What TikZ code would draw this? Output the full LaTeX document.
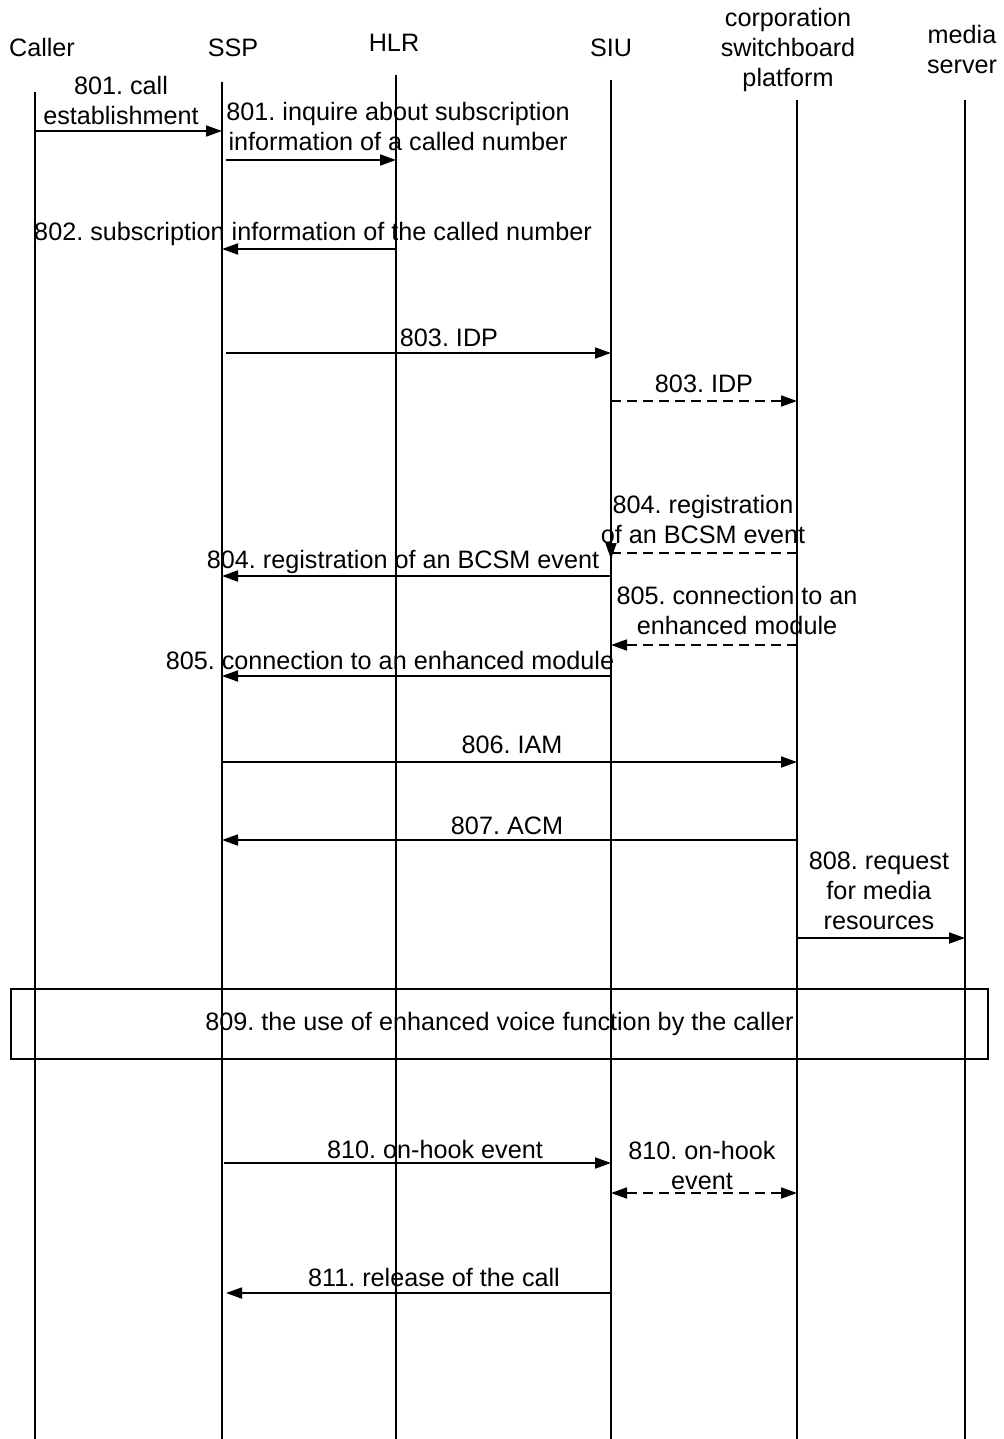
\documentclass[tikz,border=0pt]{standalone}
\usepackage{fontspec}
\setmainfont{Liberation Sans}
\usetikzlibrary{positioning,calc,arrows.meta}
\frenchspacing

\begin{document}
\begin{tikzpicture}[
	x=0.5pt, y=-0.5pt,
	font=\fontsize{12.6}{15}\selectfont,
	% Style for the vertical lifelines
	lifeline/.style={black, line width=0.9pt},
	% Style for the message arrows (solid, filled head)
	msg/.style={
		-{Triangle[length=8pt,width=5.5pt]},
		black, line width=0.9pt
	},
	% Dashed variant for the SIU <-> platform messages
	dmsg/.style={msg, dash pattern=on 5pt off 3pt},
	% Style for all texts (base = baseline of the last line)
	lbl/.style={anchor=base, inner sep=0pt, align=center}
	]
	\useasboundingbox (0,0) rectangle (1003,1439);
	
	% --- LIFELINES ---
	\foreach \name/\x/\top in {caller/35/92, ssp/222/82, hlr/396/75, siu/611/80, corp/797/100, media/965/100} {
		\coordinate (\name-top) at (\x,\top);
		\coordinate (\name-bot) at (\x,1439);
		\draw[lifeline] (\name-top) -- (\name-bot);
	}
	
	% --- POINTS ON THE LIFELINES, ONE ROW PER MESSAGE ---
	\foreach \n/\y in {a/131, b/160, c/249, d/353, e/401, f/553, g/576, h/645, i/676, j/762, k/840, l/938, m/1163, n/1193, o/1293} {
		\foreach \name in {caller, ssp, hlr, siu, corp, media}
			\coordinate (\name-\n) at (\name-top |- 0,\y);
	}
	
	% --- HEADERS ---
	\node[lbl] (caller-head) at (42,57) {Caller};
	\node[lbl] (ssp-head) at (233,57) {SSP};
	\node[lbl] (hlr-head) at (394,52) {HLR};
	\node[lbl] (siu-head) at (611,57) {SIU};
	\node[lbl] (corp-head) at (788,87) {corporation\\switchboard\\platform};
	\node[lbl] (media-head) at (962,74) {media\\server};
	
	% --- MESSAGES ---
	% 801: call establishment
	\draw[msg] (caller-a) -- (ssp-a);
	\node[lbl] (l801a) at (121,125) {801. call\\establishment};
	% 801: inquire at the HLR
	\draw[msg, shorten <=2pt] (ssp-b) -- (hlr-b);
	\node[lbl] (l801b) at (398,151) {801. inquire about subscription\\information of a called number};
	% 802: answer of the HLR
	\draw[msg] (hlr-c) -- (ssp-c);
	\node[lbl] (l802) at (313,241) {802. subscription information of the called number};
	% 803: IDP
	\draw[msg, shorten <=2pt] (ssp-d) -- (siu-d);
	\node[lbl] (l803a) at (449,346) {803. IDP};
	\draw[dmsg] (siu-e) -- (corp-e);
	\node[lbl] (l803b) at (704,392) {803. IDP};
	% 804: BCSM event
	\draw[dmsg] (corp-f) -- (siu-f) -- ++(0,6);
	\node[lbl] (l804b) at (703,543) {804. registration\\of an BCSM event};
	\draw[msg] (siu-g) -- (ssp-g);
	\node[lbl] (l804a) at (403,568) {804. registration of an BCSM event};
	% 805: enhanced module
	\draw[dmsg] (corp-h) -- (siu-h);
	\node[lbl] (l805b) at (737,634) {805. connection to an\\enhanced module};
	\draw[msg] (siu-i) -- (ssp-i);
	\node[lbl] (l805a) at (390,669) {805. connection to an enhanced module};
	% 806 / 807
	\draw[msg] (ssp-j) -- (corp-j);
	\node[lbl] (l806) at (512,753) {806. IAM};
	\draw[msg] (corp-k) -- (ssp-k);
	\node[lbl] (l807) at (507,834) {807. ACM};
	% 808: media resources
	\draw[msg] (corp-l) -- (media-l);
	\node[lbl] (l808) at (879,929) {808. request\\for media\\resources};
	
	% --- 809: BOX OVER ALL LIFELINES ---
	\node[draw, black, line width=0.9pt, minimum width=488.5pt, minimum height=35pt, inner sep=0pt] (use809) at (499.5,1024) {809. the use of enhanced voice function by the caller};
	
	% 810: on-hook event
	\draw[msg, shorten <=1pt] (ssp-m) -- (siu-m);
	\node[lbl] (l810a) at (435,1158) {810. on-hook event};
	\draw[dmsg, {Triangle[length=8pt,width=5.5pt]}-{Triangle[length=8pt,width=5.5pt]}] (siu-n) -- (corp-n);
	\node[lbl] (l810b) at (702,1189) {810. on-hook\\event};
	% 811: release
	\draw[msg, shorten >=2pt] (siu-o) -- (ssp-o);
	\node[lbl] (l811) at (434,1286) {811. release of the call};
	
\end{tikzpicture}
\end{document}
